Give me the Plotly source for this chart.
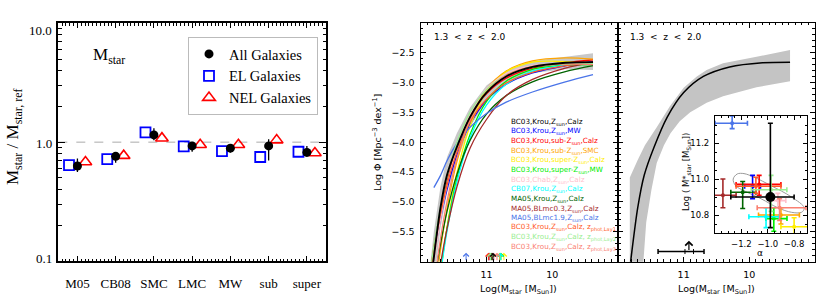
import numpy as np
import plotly.graph_objects as go

W, H = 830, 303
def fx(p):
    return p / W
def fy(p):
    return 1 - p / H

SERIF = "Liberation Serif"
SANS = "DejaVu Sans"

# ---------------- Panel 1 data ----------------
categories = ["M05", "CB08", "SMC", "LMC", "MW", "sub", "super"]
all_vals = [0.63, 0.76, 1.15, 0.93, 0.89, 0.93, 0.82]
all_err_plus = [0.10, 0.06, 0.16, 0.07, 0.06, 0.13, 0.11]
all_err_minus = [0.07, 0.09, 0.11, 0.10, 0.07, 0.23, 0.06]
el_vals = [0.64, 0.72, 1.21, 0.92, 0.84, 0.75, 0.83]
nel_vals = [0.68, 0.77, 1.08, 0.95, 0.95, 1.04, 0.81]
y1_tick_vals = [0.1, 1.0, 10.0]
y1_tick_text = ["0.1", "1.0", "10.0"]

# ---------------- Panel 2/3 data ----------------
mass_grid = [11.85, 11.80, 11.70, 11.60, 11.45, 11.25, 11.00, 10.70, 10.30, 9.80, 9.38]
model_labels = [
    "BC03,Krou,Z<sub>sun</sub>,Calz",
    "BC03,Krou,Z<sub>sun</sub>,MW",
    "BC03,Krou,sub-Z<sub>sun</sub>,Calz",
    "BC03,Krou,sub-Z<sub>sun</sub>,SMC",
    "BC03,Krou,super-Z<sub>sun</sub>,Calz",
    "BC03,Krou,super-Z<sub>sun</sub>,MW",
    "BC03,Chab,Z<sub>sun</sub>,Calz",
    "CB07,Krou,Z<sub>sun</sub>,Calz",
    "MA05,Krou,Z<sub>sun</sub>,Calz",
    "MA05,BLmc0.3,Z<sub>sun</sub>,Calz",
    "MA05,BLmc1.9,Z<sub>sun</sub>,Calz",
    "BC03,Krou,Z<sub>sun</sub>,Calz, z<sub>phot,Lay1</sub>",
    "BC03,Krou,Z<sub>sun</sub>,Calz, z<sub>phot,Lay2</sub>",
    "BC03,Krou,Z<sub>sun</sub>,Calz, z<sub>phot,Lay3</sub>",
]
model_colors = ["#000000", "#0000ff", "#ff0000", "#ffa500", "#ffee00", "#00ee00",
                "#ffc0cb", "#00ffff", "#006400", "#a52a2a", "#4a74e8",
                "#ff5a28", "#98ee90", "#fa8072"]
phi_curves = [
    [-6.40, -5.93, -5.10, -4.55, -4.08, -3.58, -3.17, -2.90, -2.74, -2.67, -2.66],
    [-6.29, -5.92, -5.29, -4.79, -4.22, -3.70, -3.30, -3.03, -2.84, -2.72, -2.65],
    [-6.14, -5.77, -5.15, -4.65, -4.09, -3.58, -3.19, -2.93, -2.76, -2.67, -2.62],
    [-7.22, -6.69, -5.81, -5.11, -4.33, -3.63, -3.12, -2.81, -2.64, -2.59, -2.61],
    [-7.85, -7.24, -6.22, -5.42, -4.52, -3.73, -3.16, -2.82, -2.66, -2.65, -2.70],
    [-7.66, -7.11, -6.18, -5.44, -4.61, -3.87, -3.32, -2.98, -2.78, -2.71, -2.70],
    [-6.44, -6.01, -5.30, -4.73, -4.09, -3.52, -3.11, -2.85, -2.72, -2.68, -2.69],
    [-7.67, -7.13, -6.22, -5.49, -4.67, -3.93, -3.38, -3.03, -2.81, -2.71, -2.68],
    [-6.79, -6.39, -5.71, -5.16, -4.54, -3.97, -3.53, -3.22, -2.99, -2.82, -2.72],
    [-7.20, -6.80, -6.05, -5.45, -4.75, -4.10, -3.62, -3.22, -2.95, -2.76, -2.66],
    [None, -4.76, -4.56, -4.31, -4.02, -3.75, -3.52, -3.33, -3.16, -2.99, -2.87],
    [-6.19, -5.83, -5.21, -4.72, -4.17, -3.66, -3.28, -3.01, -2.83, -2.72, -2.66],
    [-6.12, -5.74, -5.10, -4.59, -4.01, -3.50, -3.12, -2.88, -2.74, -2.69, -2.68],
    [-6.91, -6.43, -5.62, -4.99, -4.27, -3.63, -3.17, -2.88, -2.73, -2.69, -2.70],
]
band2_upper = [-6.00, -5.50, -4.75, -4.25, -3.85, -3.42, -3.05, -2.80, -2.64, -2.57, -2.51]
band2_lower = [-6.80, -6.30, -5.45, -4.85, -4.32, -3.75, -3.30, -3.00, -2.84, -2.78, -2.79]

band3_upper_m = [11.82, 11.82, 11.70, 11.59, 11.41, 11.21, 11.00, 10.80, 10.65, 10.40, 9.89, 9.38]
band3_upper_phi = [-6.10, -4.59, -4.30, -4.05, -3.75, -3.40, -3.09, -2.90, -2.79, -2.68, -2.57, -2.455]
band3_lower_m = [9.38, 9.89, 10.40, 10.65, 10.90, 11.06, 11.20, 11.30, 11.41, 11.49, 11.57, 11.62]
band3_lower_phi = [-2.98, -3.08, -3.23, -3.34, -3.50, -3.65, -3.85, -4.05, -4.35, -4.79, -5.34, -6.10]

# Schechter fit parameters (inset)
alpha = [-0.98, -1.115, -1.065, -0.90, -0.80, -0.954, -0.923, -1.013, -1.19, -1.34, -1.27, -1.09, -0.975, -0.91]
alpha_minus = [0.30, 0.06, 0.175, 0.17, 0.10, 0.06, 0.06, 0.13, 0.09, 0.10, 0.13, 0.15, 0.15, 0.17]
alpha_plus = [0.18, 0.06, 0.165, 0.14, 0.11, 0.10, 0.06, 0.10, 0.10, 0.10, 0.116, 0.19, 0.12, 0.20]
mstar = [10.90, 10.96, 10.97, 10.80, 10.735, 10.78, 10.88, 10.79, 10.926, 10.91, 11.31, 10.96, 10.94, 10.84]
mstar_minus = [0.17, 0.07, 0.06, 0.05, 0.04, 0.07, 0.04, 0.06, 0.09, 0.07, 0.03, 0.04, 0.12, 0.07]
mstar_plus = [0.41, 0.06, 0.05, 0.04, 0.05, 0.06, 0.04, 0.05, 0.06, 0.09, 0.04, 0.05, 0.08, 0.05]
ellipse_alpha = [-1.262, -1.231, -1.18, -1.103, -0.975, -0.82, -0.723, -0.744, -0.82, -0.923, -1.05, -1.18, -1.244, -1.262]
ellipse_mstar = [11.0, 11.028, 11.03, 11.01, 10.963, 10.90, 10.84, 10.815, 10.815, 10.84, 10.89, 10.935, 10.963, 11.0]

# panel 3 characteristic mass marker
p3_mstar = 10.92
p3_err_hi = 11.39
p3_err_lo = 10.69
p3_inner_hi = 10.98
p3_inner_lo = 10.85
p3_bar_phi = -5.83
p3_head_phi = -5.65
arrow_tail_phi = -6.0
arrow_head_phi = -5.85

fig = go.Figure()

# ---------- Panel 1 ----------
xi = np.arange(len(categories))
fig.add_trace(go.Scatter(
    x=xi - 0.22, y=el_vals, mode="markers", name="EL Galaxies", legendrank=2,
    marker=dict(symbol="square-open", size=10, color="#0000ff", line=dict(width=1.8, color="#0000ff")),
    xaxis="x", yaxis="y"))
fig.add_trace(go.Scatter(
    x=xi + 0.21, y=nel_vals, mode="markers", name="NEL Galaxies", legendrank=3,
    marker=dict(symbol="triangle-up-open", size=11, color="#ff0000", line=dict(width=1.6, color="#ff0000")),
    xaxis="x", yaxis="y"))
fig.add_trace(go.Scatter(
    x=xi, y=all_vals, mode="markers", name="All Galaxies", legendrank=1,
    marker=dict(symbol="circle", size=9, color="black"),
    error_y=dict(type="data", array=all_err_plus, arrayminus=all_err_minus,
                 color="black", thickness=1.3, width=0),
    xaxis="x", yaxis="y"))

# ---------- Panel 2 ----------
fig.add_trace(go.Scatter(
    x=mass_grid + mass_grid[::-1], y=band2_upper + band2_lower[::-1],
    fill="toself", fillcolor="#c8c8c8", line=dict(width=0), mode="lines",
    showlegend=False, hoverinfo="skip", xaxis="x2", yaxis="y2"))
order = list(range(1, len(phi_curves))) + [0]
for k in order:
    fig.add_trace(go.Scatter(
        x=mass_grid, y=phi_curves[k], mode="lines",
        line=dict(color=model_colors[k], width=1.9 if k == 0 else 1.3, shape="spline", smoothing=0.8),
        showlegend=False, hoverinfo="skip", xaxis="x2", yaxis="y2"))

# ---------- Panel 3 ----------
fig.add_trace(go.Scatter(
    x=band3_upper_m + band3_lower_m, y=band3_upper_phi + band3_lower_phi,
    fill="toself", fillcolor="#c4c4c4", line=dict(width=0), mode="lines",
    showlegend=False, hoverinfo="skip", xaxis="x3", yaxis="y3"))
fig.add_trace(go.Scatter(
    x=mass_grid, y=phi_curves[0], mode="lines",
    line=dict(color="black", width=1.5, shape="spline", smoothing=0.8),
    showlegend=False, hoverinfo="skip", xaxis="x3", yaxis="y3"))
fig.add_trace(go.Scatter(
    x=[p3_mstar], y=[p3_bar_phi], mode="markers", marker=dict(size=1, color="black"),
    error_x=dict(type="data", array=[p3_err_hi - p3_mstar], arrayminus=[p3_mstar - p3_err_lo],
                 color="black", thickness=1.5, width=2.5),
    showlegend=False, hoverinfo="skip", xaxis="x3", yaxis="y3"))
fig.add_trace(go.Scatter(
    x=[p3_mstar], y=[p3_bar_phi], mode="markers", marker=dict(size=1, color="black"),
    error_x=dict(type="data", array=[p3_inner_hi - p3_mstar], arrayminus=[p3_mstar - p3_inner_lo],
                 color="black", thickness=1.0, width=2.5),
    showlegend=False, hoverinfo="skip", xaxis="x3", yaxis="y3"))

# ---------- Inset ----------
fig.add_trace(go.Scatter(
    x=ellipse_alpha, y=ellipse_mstar, mode="lines",
    line=dict(color="#9a9a9a", width=1, shape="spline", smoothing=1.0),
    showlegend=False, hoverinfo="skip", xaxis="x4", yaxis="y4"))
for k in order:
    fig.add_trace(go.Scatter(
        x=[alpha[k]], y=[mstar[k]], mode="markers",
        marker=dict(size=10 if k == 0 else 4, color=model_colors[k]),
        error_x=dict(type="data", array=[alpha_plus[k]], arrayminus=[alpha_minus[k]],
                     color=model_colors[k], thickness=1.6, width=2.5),
        error_y=dict(type="data", array=[mstar_plus[k]], arrayminus=[mstar_minus[k]],
                     color=model_colors[k], thickness=1.6, width=2.5),
        showlegend=False, hoverinfo="skip", xaxis="x4", yaxis="y4", cliponaxis=True))

# ---------- Axes ----------
p1x = [fx(58.3), fx(326)]
p1y = [fy(261), fy(23.3)]
p2x = [fx(420.7), fx(618)]
p3x = [fx(618), fx(815)]
p23y = [fy(261.7), fy(22.7)]
insx = [fx(715), fx(807.3)]
insy = [fy(233), fy(116)]

frame = dict(showline=True, linecolor="black", mirror="allticks", ticks="inside",
             tickcolor="black", showgrid=False, zeroline=False)

minor_log = [v * d for d in (0.1, 1.0) for v in range(2, 10)]

fig.update_layout(
    width=W, height=H, autosize=False, margin=dict(l=0, r=0, t=0, b=0),
    plot_bgcolor="white", paper_bgcolor="white",
    xaxis=dict(domain=p1x, anchor="y", range=[-0.5, 6.5], tickmode="array",
               tickvals=list(xi), ticktext=categories, ticklen=5, linewidth=1.8,
               tickwidth=1.2, ticklabelstandoff=9,
               tickfont=dict(family=SERIF, size=13, color="black"),
               minor=dict(tickmode="linear", tick0=0, dtick=0.1, ticklen=2.5,
                          ticks="inside", tickcolor="black", tickwidth=1),
               **frame),
    yaxis=dict(domain=p1y, anchor="x", type="log", range=[-1, 1], tickmode="array",
               tickvals=y1_tick_vals, ticktext=y1_tick_text, showticklabels=False,
               ticklen=7, linewidth=1.8, tickwidth=1.2,
               minor=dict(tickmode="array", tickvals=minor_log, ticklen=3.5,
                          ticks="inside", tickcolor="black", tickwidth=1),
               **frame),
    xaxis2=dict(domain=p2x, anchor="y2", range=[12, 9], tickmode="array",
                tickvals=[11, 10], ticklen=5, linewidth=1.3, tickwidth=1,
                ticklabelstandoff=4,
                tickfont=dict(family=SANS, size=9.5, color="black"),
                minor=dict(tickmode="linear", tick0=0, dtick=0.1, ticklen=2.5,
                           ticks="inside", tickcolor="black", tickwidth=1),
                **frame),
    yaxis2=dict(domain=p23y, anchor="x2", range=[-6, -2], tickmode="array",
                tickvals=[-5.5, -5.0, -4.5, -4.0, -3.5, -3.0, -2.5], tickformat=".1f",
                ticklen=5, linewidth=1.3, tickwidth=1, ticklabelstandoff=3,
                tickfont=dict(family=SANS, size=9.5, color="black"),
                minor=dict(tickmode="linear", tick0=0, dtick=0.1, ticklen=2.5,
                           ticks="inside", tickcolor="black", tickwidth=1),
                **frame),
    xaxis3=dict(domain=p3x, anchor="y3", range=[12, 9], tickmode="array",
                tickvals=[11, 10], ticklen=5, linewidth=1.3, tickwidth=1,
                ticklabelstandoff=4,
                tickfont=dict(family=SANS, size=9.5, color="black"),
                minor=dict(tickmode="linear", tick0=0, dtick=0.1, ticklen=2.5,
                           ticks="inside", tickcolor="black", tickwidth=1),
                **frame),
    yaxis3=dict(domain=p23y, anchor="x3", range=[-6, -2], tickmode="array",
                tickvals=[-5.5, -5.0, -4.5, -4.0, -3.5, -3.0, -2.5], showticklabels=False,
                ticklen=5, linewidth=1.3, tickwidth=1,
                minor=dict(tickmode="linear", tick0=0, dtick=0.1, ticklen=2.5,
                           ticks="inside", tickcolor="black", tickwidth=1),
                **frame),
    xaxis4=dict(domain=insx, anchor="y4", range=[-1.4, -0.7], tickmode="array",
                tickvals=[-1.2, -1.0, -0.8], tickformat=".1f", ticklen=4, linewidth=1.1,
                tickwidth=1, ticklabelstandoff=3,
                tickfont=dict(family=SANS, size=8.5, color="black"),
                minor=dict(tickmode="linear", tick0=0, dtick=0.05, ticklen=2,
                           ticks="inside", tickcolor="black", tickwidth=1),
                **frame),
    yaxis4=dict(domain=insy, anchor="x4", range=[10.7, 11.35], tickmode="array",
                tickvals=[10.8, 11.0, 11.2], tickformat=".1f", ticklen=4, linewidth=1.1,
                tickwidth=1, ticklabelstandoff=3,
                tickfont=dict(family=SANS, size=8.5, color="black"),
                minor=dict(tickmode="linear", tick0=0, dtick=0.05, ticklen=2,
                           ticks="inside", tickcolor="black", tickwidth=1),
                **frame),
    showlegend=True,
    legend=dict(x=fx(318), y=fy(37), xanchor="right", yanchor="top",
                bgcolor="white", bordercolor="#bbbbbb", borderwidth=1,
                font=dict(family=SERIF, size=14.5, color="black"),
                itemwidth=30, tracegroupgap=0),
)

# dashed reference line at 1
fig.add_shape(type="line", xref="x domain", yref="y", x0=0, x1=1, y0=1, y1=1,
              line=dict(color="#aaaaaa", width=1, dash="dash"), layer="below")

ann = []
# panel 1 y tick labels (IDL-like placement)
for v, t, sh in zip(y1_tick_vals, y1_tick_text, [3, -1, -7]):
    ann.append(dict(x=fx(54), xref="paper", y=np.log10(v), yref="y", text=t,
                    showarrow=False, xanchor="right", yanchor="middle", yshift=sh,
                    font=dict(family=SERIF, size=13, color="black")))
ann.append(dict(x=fx(91), y=fy(56), xref="paper", yref="paper", xanchor="left", yanchor="middle",
                text="M<sub>star</sub>", showarrow=False,
                font=dict(family=SERIF, size=17, color="black")))
ann.append(dict(x=fx(14), y=fy(137), xref="paper", yref="paper", xanchor="center", yanchor="middle",
                text="M<sub>star</sub> / M<sub>star, ref</sub>", textangle=-90, showarrow=False,
                font=dict(family=SERIF, size=17, color="black")))

# panel 2/3 texts
for xx in (431.5, 628):
    ann.append(dict(x=fx(xx), y=fy(37), xref="paper", yref="paper", xanchor="left", yanchor="middle",
                    text="1.3  <  z  <  2.0", showarrow=False,
                    font=dict(family=SANS, size=9, color="black")))
for xx in (518.5, 716.5):
    ann.append(dict(x=fx(xx), y=fy(289), xref="paper", yref="paper", xanchor="center", yanchor="middle",
                    text="Log(M<sub>star</sub> [M<sub>Sun</sub>])", showarrow=False,
                    font=dict(family=SANS, size=9.5, color="black")))
ann.append(dict(x=fx(377), y=fy(143), xref="paper", yref="paper", xanchor="center", yanchor="middle",
                text="Log \u03a6 [Mpc<sup>\u22123</sup> dex<sup>\u22121</sup>]", textangle=-90,
                showarrow=False, font=dict(family=SANS, size=9.5, color="black")))
# model legend text in panel 2
for i, (lab, col) in enumerate(zip(model_labels, model_colors)):
    ann.append(dict(x=fx(509), y=fy(121.7 + 9.65 * i), xref="paper", yref="paper",
                    xanchor="left", yanchor="middle", text=lab, showarrow=False,
                    font=dict(family=SANS, size=7.2, color=col)))
# inset titles
ann.append(dict(x=fx(686), y=fy(172), xref="paper", yref="paper", xanchor="center", yanchor="middle",
                text="Log ( M*<sub>star</sub> [M<sub>Sun</sub>])", textangle=-90, showarrow=False,
                font=dict(family=SANS, size=8.5, color="black")))
ann.append(dict(x=fx(760), y=fy(253), xref="paper", yref="paper", xanchor="center", yanchor="middle",
                text="\u03b1", showarrow=False, font=dict(family=SANS, size=9, color="black")))
# M* arrows in panel 2
for k in order:
    ann.append(dict(x=mstar[k], y=arrow_head_phi, ax=mstar[k], ay=arrow_tail_phi,
                    xref="x2", yref="y2", axref="x2", ayref="y2", text="", showarrow=True,
                    arrowhead=4, arrowsize=1.1, arrowwidth=1.0, arrowcolor=model_colors[k]))
# arrow in panel 3
ann.append(dict(x=p3_mstar, y=p3_head_phi, ax=p3_mstar, ay=p3_bar_phi,
                xref="x3", yref="y3", axref="x3", ayref="y3", text="", showarrow=True,
                arrowhead=4, arrowsize=1.2, arrowwidth=1.2, arrowcolor="black"))

fig.update_layout(annotations=ann)
fig.write_html("out.html", config={"displayModeBar": False},
               post_script="document.body.style.margin='0';document.body.style.overflow='hidden';")
